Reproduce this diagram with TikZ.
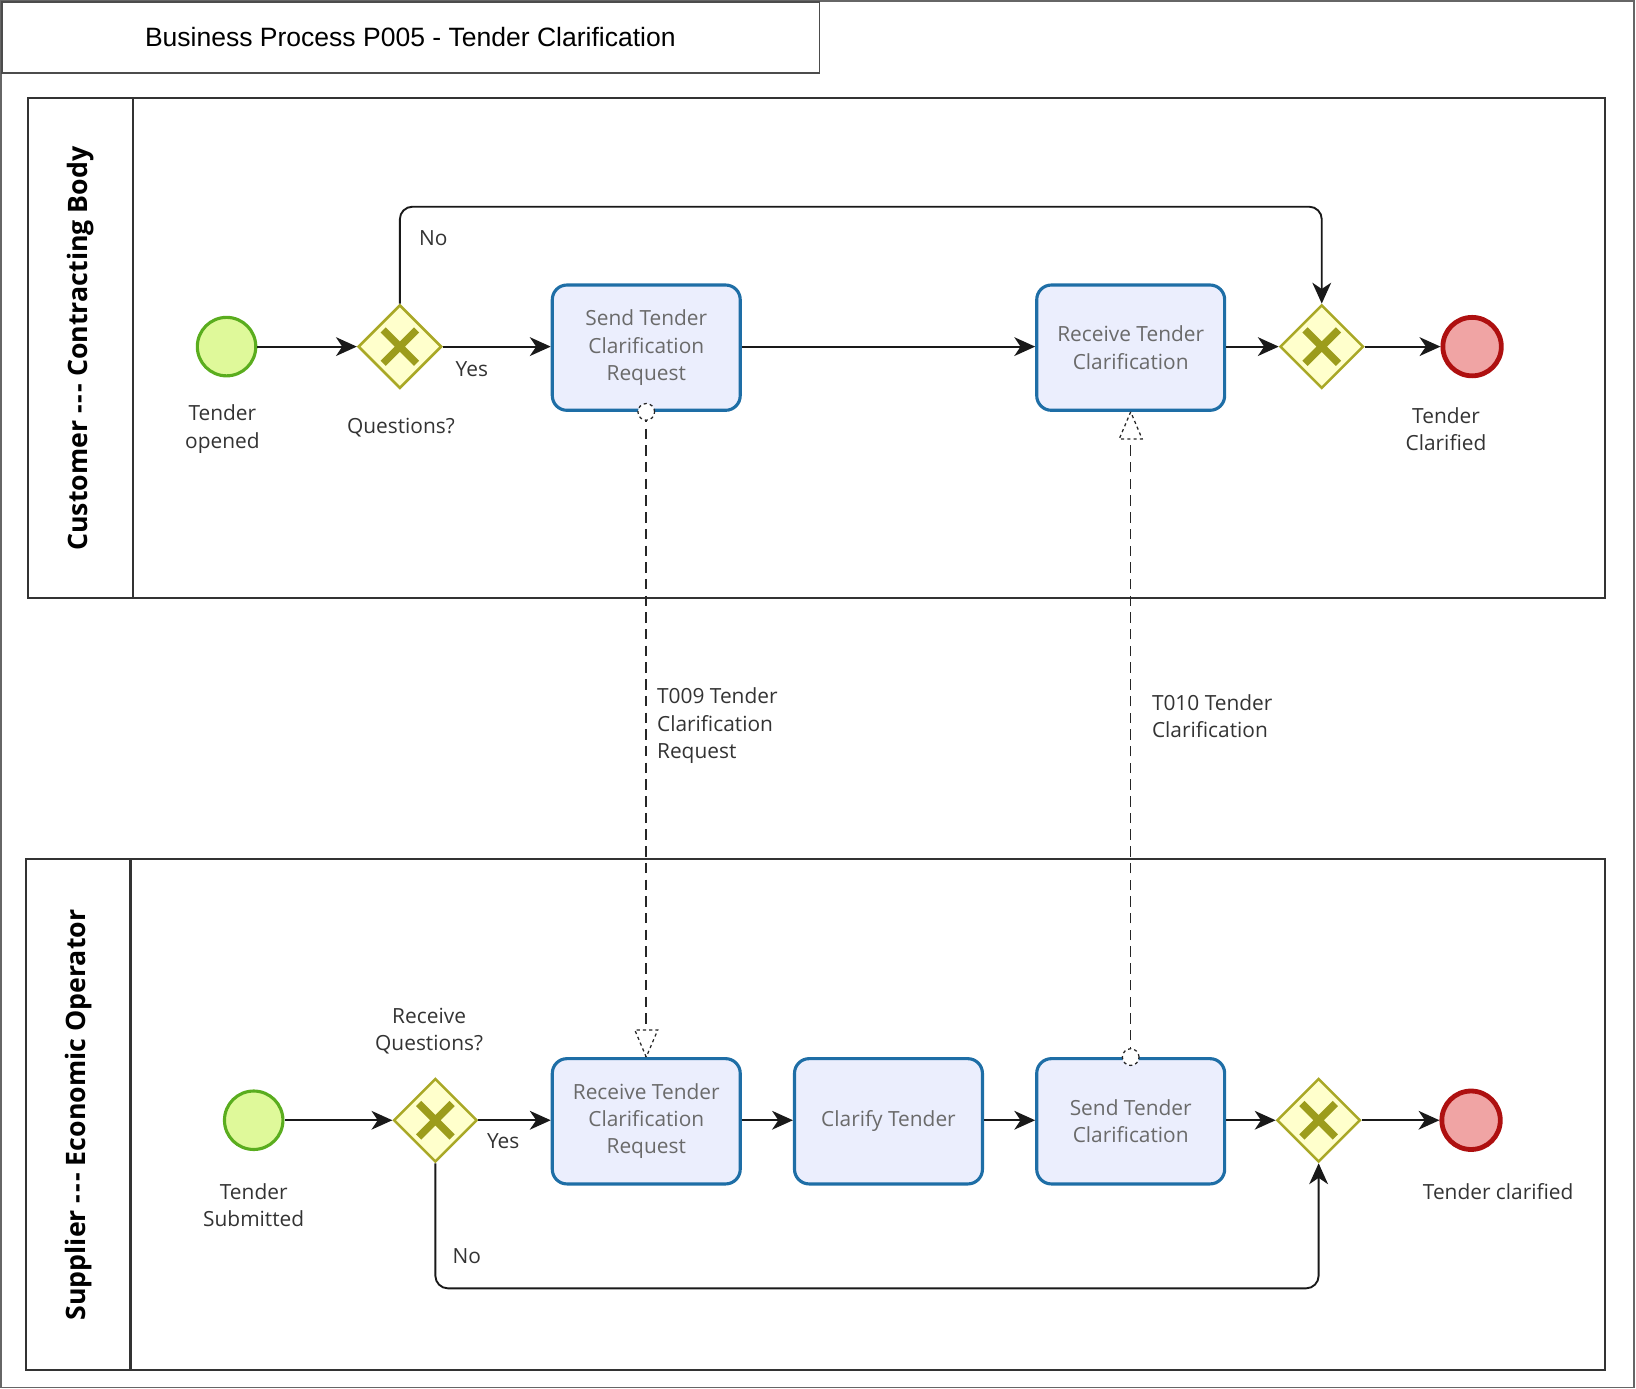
\documentclass[tikz,border=0pt]{standalone}
\usepackage{fontspec}
\setmainfont{Open Sans}
\newfontfamily\titlefont{Liberation Sans}
\usetikzlibrary{shapes.geometric,arrows.meta,calc}
\definecolor{taskfill}{HTML}{EBEEFD}
\definecolor{taskdraw}{HTML}{1E6EA6}
\definecolor{tasktext}{HTML}{6A6A6A}
\definecolor{gwfill}{HTML}{FFFFCC}
\definecolor{gwdraw}{HTML}{A9A826}
\definecolor{gwx}{HTML}{9C9C1C}
\definecolor{stfill}{HTML}{DFF99A}
\definecolor{stdraw}{HTML}{5AAD1E}
\definecolor{enfill}{HTML}{F0A4A4}
\definecolor{endraw}{HTML}{AE1010}
\definecolor{lblcol}{HTML}{333333}
\newcommand{\tripledash}{\hbox{-}\kern1pt\hbox{-}\kern1pt\hbox{-}}
\begin{document}
\begin{tikzpicture}[x=0.5pt,y=-0.5pt,
 task/.style={rectangle, rounded corners=7pt, draw=taskdraw, line width=1.5pt, fill=taskfill,
   minimum width=90pt, minimum height=60pt, align=center, text=tasktext,
   font=\fontsize{10}{13}\selectfont, inner sep=0pt},
 gw/.style={diamond, draw=gwdraw, fill=gwfill, line width=1.2pt, minimum size=40pt, inner sep=0pt,
   path picture={\draw[gwx, line width=3.5pt]
     ([shift={(-8pt,-8pt)}]path picture bounding box.center) -- ([shift={(8pt,8pt)}]path picture bounding box.center)
     ([shift={(-8pt,8pt)}]path picture bounding box.center) -- ([shift={(8pt,-8pt)}]path picture bounding box.center);}},
 startev/.style={circle, draw=stdraw, fill=stfill, line width=1.5pt, minimum size=28pt, inner sep=0pt},
 endev/.style={circle, draw=endraw, fill=enfill, line width=2.3pt, minimum size=28pt, inner sep=0pt},
 lab/.style={text=lblcol, align=center, font=\fontsize{10}{13}\selectfont, inner sep=0pt, yshift=-1.5pt},
 flow/.style={draw=black!90, line width=0.9pt, -{Stealth[length=10pt,width=9pt,inset=3pt]}},
 msg/.style={draw=black!85, line width=0.75pt, dash pattern=on 5pt off 3pt},
 msgtip/.style={draw=black!85, line width=0.6pt, dash pattern=on 1.5pt off 1.5pt, fill=white},
 lane/.style={draw=black!80, line width=1pt},
 lanetitle/.style={rotate=90, text=black, font=\bfseries\fontsize{12.8}{15}\selectfont, inner sep=0pt},
]
\useasboundingbox (0,0) rectangle (1567,1330.4);
% outer frame and title
\draw[black!60, line width=0.7pt] (1,1) rectangle (1565,1329);
\draw[black!70, line width=0.7pt] (2,2) rectangle (785,70);
\node[font=\titlefont\fontsize{12.7}{15}\selectfont, inner sep=0pt] (title) at (393,35) {Business Process P005 - Tender Clarification};

% lanes
\draw[lane] (27,94) rectangle (1537,573);
\draw[lane] (127,94) -- (127,573);
\node[lanetitle] (lane1) at (77,334) {Customer \tripledash{} Contracting Body};
\draw[lane] (25,823) rectangle (1537,1312);
\draw[lane] (125,823) -- (125,1312);
\node[lanetitle] (lane2) at (75,1068) {Supplier \tripledash{} Economic Operator};

% top lane nodes
\node[startev] (s1) at (217,332) {};
\node[gw] (g1) at (383,332) {};
\node[task] (t1) at (619,333) {Send Tender\\Clarification\\Request};
\node[task] (t2) at (1083,333) {Receive Tender\\Clarification};
\node[gw] (g2) at (1266,332) {};
\node[endev] (e1) at (1410,332) {};

% bottom lane nodes
\node[startev] (s2) at (243,1073) {};
\node[gw] (g3) at (417,1073) {};
\node[task] (t3) at (619,1074) {Receive Tender\\Clarification\\Request};
\node[task] (t4) at (851,1074) {Clarify Tender};
\node[task] (t5) at (1083,1074) {Send Tender\\Clarification};
\node[gw] (g4) at (1263,1073) {};
\node[endev] (e2) at (1409,1073) {};

% sequence flows
\draw[flow] (s1) -- (g1.west);
\draw[flow] (g1.east) -- (g1.east -| t1.west);
\draw[flow] (t1.east |- g1.east) -- (t2.west |- g1.east);
\draw[flow] (t2.east |- g2.west) -- (g2.west);
\draw[flow] (g2.east) -- (e1);
\coordinate (topy) at (0,198);
\draw[flow, rounded corners=6pt] (g1.north) -- (g1.north |- topy) -| (g2.north);

\draw[flow] (s2) -- (g3.west);
\draw[flow] (g3.east) -- (g3.east -| t3.west);
\draw[flow] (t3.east |- g3.east) -- (t4.west |- g3.east);
\draw[flow] (t4.east |- g3.east) -- (t5.west |- g3.east);
\draw[flow] (t5.east |- g4.west) -- (g4.west);
\draw[flow] (g4.east) -- (e2);
\coordinate (boty) at (0,1234);
\draw[flow, rounded corners=6pt] (g3.south) -- (g3.south |- boty) -| (g4.south);

% message flows
\draw[msg] (t1.south) -- (t3.north);
\draw[msgtip] (t3.north) -- ++(-11,-26) -- ++(22,0) -- cycle;
\node[circle, msgtip, minimum size=8pt, inner sep=0pt] (m1) at (t1.south) {};
\draw[msg] (t5.north) -- (t2.south);
\draw[msgtip] (t2.south) -- ++(-11,26) -- ++(22,0) -- cycle;
\node[circle, msgtip, minimum size=8pt, inner sep=0pt] (m2) at (t5.north) {};

% labels
\node[lab] (l1) at (415,225) {No};
\node[lab] (l2) at (452,351) {Yes};
\node[lab] (l3) at (384,407) {Questions?};
\node[lab] (l4) at (213,408) {Tender\\opened};
\node[lab] (l5) at (1385,408) {Tender\\Clarified};
\node[lab, align=left, anchor=west] (l6) at (629,692) {T009 Tender\\Clarification\\Request};
\node[lab, align=left, anchor=west] (l7) at (1103,683) {T010 Tender\\Clarification};
\node[lab] (l8) at (411,985) {Receive\\Questions?};
\node[lab] (l9) at (482,1090) {Yes};
\node[lab] (l10) at (243,1151) {Tender\\Submitted};
\node[lab] (l11) at (447,1200) {No};
\node[lab] (l12) at (1435,1138) {Tender clarified};
\end{tikzpicture}
\end{document}
